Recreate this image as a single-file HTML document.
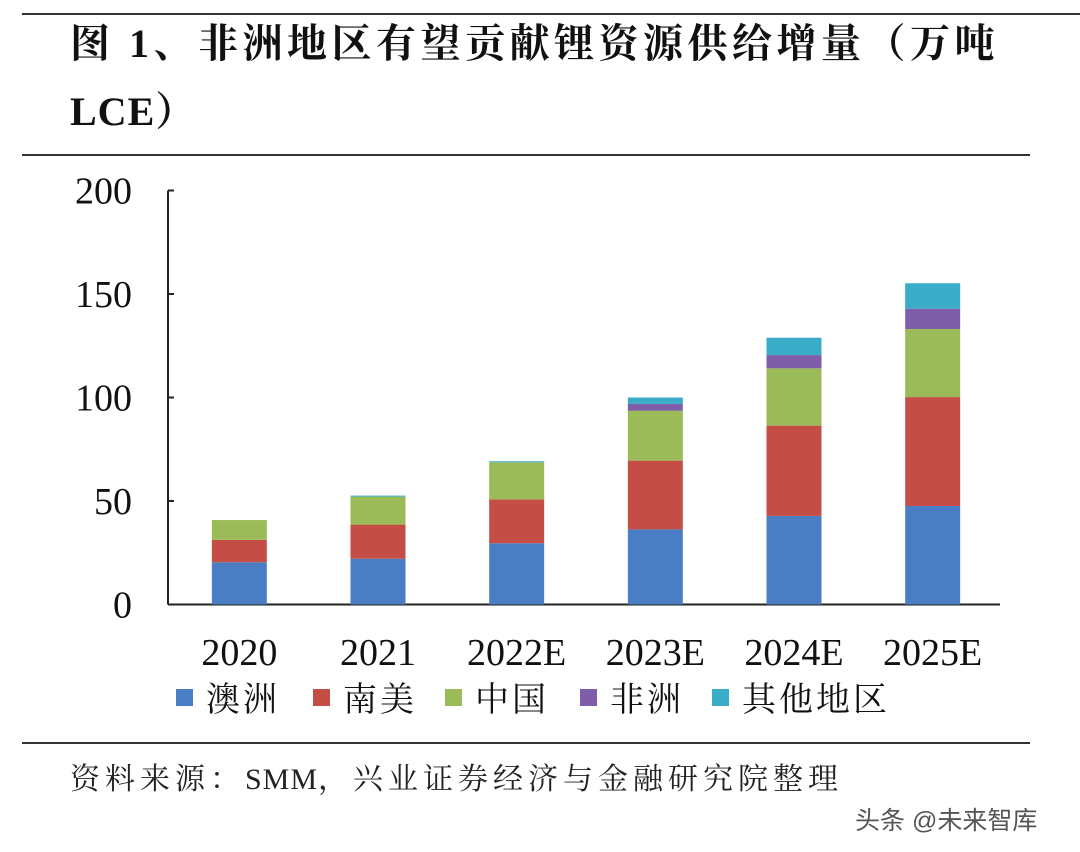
<!DOCTYPE html>
<html><head><meta charset="utf-8"><style>
body{margin:0;background:#fff;width:1080px;height:852px;overflow:hidden;position:relative;font-family:"Liberation Serif","Noto Serif CJK SC",serif;}
.t{position:absolute;white-space:nowrap;}
</style></head><body>
<div class="t" style="left:22px;top:13px;width:1058px;height:2px;background:#333"></div>
<div class="t" style="left:70px;top:10px;font-size:40px;font-weight:bold;letter-spacing:4.5px;line-height:68px;color:#111">图 1、非洲地区有望贡献锂资源供给增量（万吨<br><span style="letter-spacing:1px">LCE</span>）</div>
<div class="t" style="left:22px;top:154px;width:1008px;height:2px;background:#333"></div>
<svg id="chart" width="1080" height="852" style="position:absolute;left:0;top:0" font-family="Liberation Serif, Noto Serif CJK SC, serif"></svg>
<div class="t" style="left:22px;top:742px;width:1008px;height:2px;background:#333"></div>
<div class="t" style="left:70px;top:754px;font-size:30px;letter-spacing:5px;color:#222">资料来源：<span style="font-family:'Liberation Serif';font-size:30px;letter-spacing:1px">SMM</span>，兴业证券经济与金融研究院整理</div>
<div class="t" style="left:855px;top:801px;font-size:25px;color:#555;font-family:'Liberation Sans','Noto Sans CJK SC',sans-serif">头条 @未来智库</div>
<script>
const categories=["2020","2021","2022E","2023E","2024E","2025E"];
const seriesNames=["澳洲","南美","中国","非洲","其他地区"];
const australia=[20.4,22.1,29.6,36.3,42.8,47.6];
const southAmerica=[10.8,16.5,21.2,33.2,43.6,52.6];
const china=[9.6,13.5,17.9,24.1,27.7,32.9];
const africa=[0,0,0,3.3,6.4,9.8];
const others=[0,0.5,0.5,3.1,8.4,12.3];
const yTicks=[0,50,100,150,200];
const colors=["#4a7dc4","#c44d45","#9bbb59","#7e5ea8","#3bacc8"];
const series=[australia,southAmerica,china,africa,others];
const svg=document.getElementById('chart');
const NS="http://www.w3.org/2000/svg";
const x0=168,x1=1000,y0=604.5,pxPer=2.07;
const y=v=>y0-v*pxPer;
const step=(x1-x0)/categories.length,bw=55;
const xc=i=>x0+step*(i+0.5)+2;
function mk(t,a){const e=document.createElementNS(NS,t);for(const k in a)e.setAttribute(k,a[k]);svg.appendChild(e);return e;}
let ax=mk('line',{x1:x0,y1:y(200),x2:x0,y2:y0,stroke:'#222','stroke-width':2});


let bx=mk('line',{x1:x0,y1:y0,x2:x1,y2:y0,stroke:'#222','stroke-width':2});


yTicks.forEach(v=>{
 let tk=mk('line',{x1:x0,y1:y(v),x2:x0+6,y2:y(v),stroke:'#222','stroke-width':2});
 
 
 let t=mk('text',{x:132,y:y(v)+13,'text-anchor':'end','font-size':38,fill:'#111'});
 t.textContent=v;
 
 
});
categories.forEach((c,i)=>{
 let acc=0;
 series.forEach((s,j)=>{
  const v=s[i];if(v<=0)return;
  let r=mk('rect',{x:xc(i)-bw/2,y:y(acc+v),width:bw,height:v*pxPer,fill:colors[j]});
  
  
  acc+=v;
 });
 let t=mk('text',{x:xc(i),y:665,'text-anchor':'middle','font-size':38,fill:'#111'});
 t.textContent=c;
 
 
});
const legX=[176,313,445,580,712];
seriesNames.forEach((n,j)=>{
 let r=mk('rect',{x:legX[j],y:689,width:17,height:17,fill:colors[j]});
 
 
 let t=mk('text',{x:legX[j]+30,y:711,'font-size':34,fill:'#111','letter-spacing':3});
 t.textContent=n;
 
 
});
</script>
</body></html>
